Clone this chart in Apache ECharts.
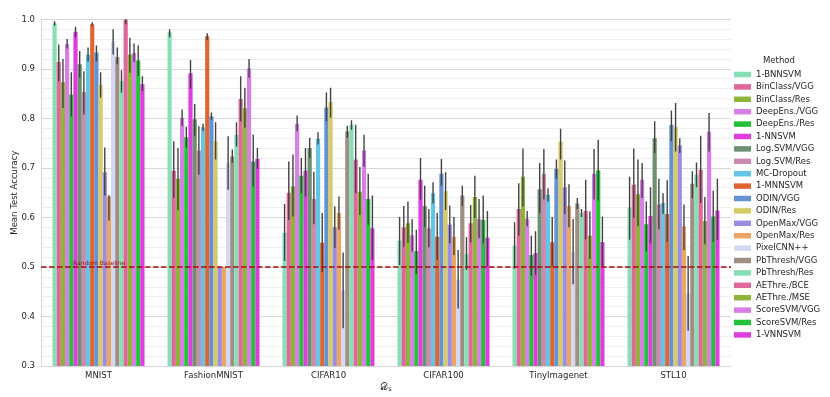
<!DOCTYPE html>
<html>
<head>
<meta charset="utf-8">
<title>Mean Test Accuracy</title>
<script src="https://cdn.jsdelivr.net/npm/echarts@6/dist/echarts.min.js"></script>
<style>
	html, body { margin: 0; padding: 0; background: #fff; }
	#chart { width: 830px; height: 397px; }
</style>
</head>
<body>
<div id="chart"></div>
<script>
/*数据集 (x轴)*/
var datasets = ['MNIST', 'FashionMNIST', 'CIFAR10', 'CIFAR100', 'TinyImagenet', 'STL10'];

/*方法 (图例顺序)*/
var methods = ['1-BNNSVM', 'BinClass/VGG', 'BinClass/Res', 'DeepEns./VGG', 'DeepEns./Res', '1-NNSVM',
	'Log.SVM/VGG', 'Log.SVM/Res', 'MC-Dropout', '1-MNNSVM', 'ODIN/VGG', 'ODIN/Res', 'OpenMax/VGG',
	'OpenMax/Res', 'PixelCNN++', 'PbThresh/VGG', 'PbThresh/Res', 'AEThre./BCE', 'AEThre./MSE',
	'ScoreSVM/VGG', 'ScoreSVM/Res', '1-VNNSVM'];

/*每个数据集的平均准确率, 按方法顺序*/
var meanMNIST = [0.992, 0.914, 0.873, 0.950, 0.848, 0.975, 0.909, 0.853, 0.929, 0.990, 0.933, 0.868, 0.691, 0.642, 0.955, 0.924, 0.875, 0.999, 0.929, 0.932, 0.917, 0.869];
var meanFashion = [0.974, 0.694, 0.678, 0.801, 0.762, 0.891, 0.798, 0.735, 0.782, 0.966, 0.804, 0.754, 0.500, 0.500, 0.710, 0.723, 0.767, 0.839, 0.821, 0.901, 0.713, 0.718];
var meanCifar10 = [0.569, 0.650, 0.663, 0.789, 0.684, 0.694, 0.740, 0.637, 0.759, 0.549, 0.822, 0.833, 0.580, 0.609, 0.453, 0.774, 0.787, 0.717, 0.652, 0.735, 0.637, 0.578];
var meanCifar100 = [0.553, 0.580, 0.588, 0.564, 0.532, 0.676, 0.623, 0.578, 0.649, 0.561, 0.688, 0.653, 0.585, 0.561, 0.474, 0.644, 0.526, 0.588, 0.641, 0.597, 0.595, 0.559];
var meanTiny = [0.543, 0.617, 0.682, 0.597, 0.524, 0.528, 0.657, 0.688, 0.646, 0.550, 0.698, 0.753, 0.661, 0.623, 0.531, 0.628, 0.609, 0.613, 0.563, 0.688, 0.695, 0.550];
var meanStl10 = [0.620, 0.666, 0.647, 0.676, 0.586, 0.603, 0.760, 0.626, 0.629, 0.607, 0.787, 0.783, 0.745, 0.582, 0.447, 0.668, 0.686, 0.696, 0.593, 0.773, 0.602, 0.614];

/*误差棒下限*/
var loMNIST = [0.987, 0.875, 0.821, 0.941, 0.804, 0.964, 0.882, 0.808, 0.915, 0.986, 0.915, 0.842, 0.644, 0.594, 0.929, 0.909, 0.852, 0.990, 0.892, 0.914, 0.885, 0.855];
var loFashion = [0.964, 0.639, 0.615, 0.784, 0.741, 0.860, 0.764, 0.686, 0.775, 0.958, 0.797, 0.717, 0.500, 0.500, 0.656, 0.710, 0.743, 0.794, 0.781, 0.882, 0.663, 0.698];
var loCifar10 = [0.512, 0.595, 0.602, 0.774, 0.649, 0.642, 0.720, 0.586, 0.747, 0.490, 0.794, 0.801, 0.538, 0.575, 0.376, 0.761, 0.777, 0.649, 0.605, 0.703, 0.585, 0.514];
var loCifar100 = [0.504, 0.541, 0.549, 0.531, 0.486, 0.636, 0.580, 0.540, 0.628, 0.514, 0.664, 0.615, 0.548, 0.524, 0.416, 0.623, 0.494, 0.550, 0.599, 0.558, 0.548, 0.501];
var loTiny = [0.497, 0.563, 0.622, 0.582, 0.482, 0.484, 0.609, 0.636, 0.632, 0.501, 0.678, 0.717, 0.607, 0.580, 0.465, 0.617, 0.601, 0.556, 0.516, 0.636, 0.634, 0.501];
var loStl10 = [0.555, 0.599, 0.582, 0.639, 0.531, 0.548, 0.730, 0.576, 0.607, 0.551, 0.754, 0.733, 0.730, 0.534, 0.371, 0.639, 0.661, 0.629, 0.546, 0.733, 0.551, 0.555];

/*误差棒上限*/
var hiMNIST = [0.996, 0.949, 0.920, 0.960, 0.893, 0.985, 0.936, 0.895, 0.943, 0.994, 0.947, 0.893, 0.741, 0.645, 0.980, 0.943, 0.897, 1.005, 0.963, 0.951, 0.947, 0.885];
var hiFashion = [0.980, 0.754, 0.740, 0.818, 0.783, 0.918, 0.829, 0.784, 0.789, 0.972, 0.812, 0.792, 0.500, 0.500, 0.764, 0.737, 0.792, 0.885, 0.862, 0.920, 0.767, 0.740];
var hiCifar10 = [0.627, 0.713, 0.727, 0.806, 0.720, 0.740, 0.761, 0.692, 0.772, 0.609, 0.852, 0.862, 0.622, 0.642, 0.529, 0.785, 0.796, 0.787, 0.702, 0.767, 0.688, 0.644];
var hiCifar100 = [0.601, 0.623, 0.632, 0.597, 0.575, 0.720, 0.664, 0.617, 0.671, 0.609, 0.718, 0.691, 0.624, 0.601, 0.534, 0.664, 0.560, 0.625, 0.684, 0.637, 0.644, 0.613];
var hiTiny = [0.590, 0.669, 0.739, 0.613, 0.563, 0.572, 0.710, 0.738, 0.659, 0.601, 0.717, 0.779, 0.715, 0.667, 0.597, 0.639, 0.617, 0.676, 0.612, 0.738, 0.757, 0.602];
var hiStl10 = [0.682, 0.739, 0.717, 0.710, 0.632, 0.661, 0.794, 0.678, 0.649, 0.675, 0.816, 0.831, 0.760, 0.626, 0.522, 0.693, 0.711, 0.765, 0.641, 0.811, 0.654, 0.678];

/*随机基线*/
var baseline = 0.5;

/*颜色*/
var colors = ['#86dfb5', '#e0679a', '#8eb53a', '#d67fe6', '#25c13a', '#e03de0', '#6e9070', '#cc8ab0',
	'#63c6e6', '#e06530', '#6592d4', '#d6cb66', '#9a8de3', '#eba565', '#d3d8f3', '#a08e84',
	'#86dfb5', '#e0679a', '#8eb53a', '#d67fe6', '#25c13a', '#e03de0'];

var means = [meanMNIST, meanFashion, meanCifar10, meanCifar100, meanTiny, meanStl10];
var los = [loMNIST, loFashion, loCifar10, loCifar100, loTiny, loStl10];
var his = [hiMNIST, hiFashion, hiCifar10, hiCifar100, hiTiny, hiStl10];

var font = 'DejaVu Sans';
var series = [];

/*柱状图: 每个方法一个系列*/
for(var i = 0; i < methods.length; i++) {
	var d = [];
	for(var j = 0; j < datasets.length; j++) {
		d.push(means[j][i]);
	}
	series.push({
		name: methods[i],
		type: 'bar',
		data: d,
		barGap: '0%',
		barCategoryGap: '20%',
		itemStyle: { color: colors[i] },
		z: 2
	});
}

/*误差棒*/
var errData = [];
for(var j = 0; j < datasets.length; j++) {
	for(var i = 0; i < methods.length; i++) {
		errData.push([j, i, los[j][i], his[j][i]]);
	}
}

function renderErr(params, api) {
	var cat = api.value(0);
	var k = api.value(1);
	var band = api.size([1, 0])[0];
	var w = band * 0.8 / methods.length;
	var dx = (k - (methods.length - 1) / 2) * w;
	var p1 = api.coord([cat, api.value(2)]);
	var p2 = api.coord([cat, api.value(3)]);
	return {
		type: 'line',
		shape: { x1: p1[0] + dx, y1: p1[1], x2: p2[0] + dx, y2: p2[1] },
		style: { stroke: '#424242', lineWidth: 1.4 }
	};
}

series.push({
	name: 'err',
	type: 'custom',
	renderItem: renderErr,
	data: errData,
	encode: { x: 0, y: [2, 3] },
	clip: true,
	z: 4,
	markLine: {
		silent: true,
		symbol: 'none',
		data: [{ yAxis: baseline }],
		lineStyle: { color: '#a50d12', type: [5.5, 2.5], width: 1.5 },
		label: {
			show: true,
			position: 'insideStartTop',
			formatter: 'Random Baseline',
			color: '#9a1010',
			fontFamily: font,
			fontSize: 6,
			distance: [32, 1]
		}
	}
});

var myChart = echarts.init(document.getElementById('chart'));
myChart.setOption({
	animation: false,
	backgroundColor: '#fff',
	textStyle: { fontFamily: font },
	grid: { left: 41, right: 99, top: 19.3, bottom: 31, outerBoundsMode: 'none' },
	legend: {
		orient: 'vertical',
		left: 729,
		top: 64.5,
		data: methods,
		icon: 'rect',
		itemWidth: 17,
		itemHeight: 5.5,
		itemGap: 2.4,
		textStyle: { fontFamily: font, fontSize: 8.5, color: '#262626', lineHeight: 10 }
	},
	graphic: [{
		type: 'text',
		left: 763,
		top: 56,
		style: { text: 'Method', font: '8.5px "DejaVu Sans"', fill: '#262626' }
	}],
	xAxis: {
		type: 'category',
		data: datasets,
		name: '{d|𝒟}{s|s}',
		nameLocation: 'middle',
		nameGap: 15,
		nameMoveOverlap: false,
		nameTextStyle: {
			rich: {
				d: { fontFamily: font, fontSize: 10, color: '#262626' },
				s: { fontFamily: font, fontSize: 6.5, color: '#262626', padding: [5, 0, 0, 0] }
			}
		},
		axisTick: { show: false },
		axisLine: { lineStyle: { color: '#d6d6d6', width: 1 } },
		axisLabel: { fontFamily: font, fontSize: 8.5, color: '#262626', margin: 5 }
	},
	yAxis: {
		type: 'value',
		min: 0.3,
		max: 1.0,
		interval: 0.1,
		name: 'Mean Test Accuracy',
		nameLocation: 'middle',
		nameGap: 22,
		nameMoveOverlap: false,
		nameTextStyle: { fontFamily: font, fontSize: 8.5, color: '#262626' },
		axisLine: { show: true, lineStyle: { color: '#d6d6d6' } },
		axisTick: { show: false },
		axisLabel: {
			fontFamily: font, fontSize: 8.5, color: '#262626', margin: 6,
			formatter: function(v) { return v.toFixed(1); }
		},
		splitLine: { lineStyle: { color: '#d6d6d6', width: 1 } },
		minorTick: { show: false, splitNumber: 5 },
		minorSplitLine: { show: true, lineStyle: { color: '#efefef', width: 1 } }
	},
	series: series
});
</script>
</body>
</html>
